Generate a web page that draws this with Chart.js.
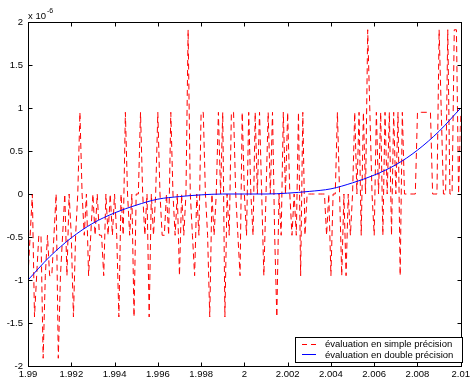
<!DOCTYPE html>
<html>
<head>
<meta charset="utf-8">
<script src="https://cdn.jsdelivr.net/npm/chart.js@4/dist/chart.umd.min.js"></script>
<style>
  html, body { margin: 0; padding: 0; background: #fff; }
  #wrap { width: 473px; height: 379px; }
</style>
</head>
<body>
<div id="wrap"><canvas id="chart" width="473" height="379"></canvas></div>
<script>
// sampling of the two curves
const singleStart = 1.99, singleStep = 0.0001;
const doubleStart = 1.99, doubleStep = 0.001;

// single precision evaluation (x 1e-6)
const singleValues = [
    -0.95, -0.48, 0, -1.43, -0.95, -0.48, -0.48, -1.91, -0.95, -0.48, -0.95, -0.95, -0.48, 0, -1.91, -0.95,
    -0.48, 0, -0.95, 0, -0.48, -1.43, -0.48, 0, 0.95, 0, -0.48, 0, -0.95, -0.48, 0, -0.48, 0, -0.48, -0.48, -0.95,
    0, -0.48, 0, -0.48, 0, -0.48, -1.43, 0, -0.48, 0.95, 0, -0.48, 0, -1.43, 0,
    0, 0.95, 0, -0.48, 0, -1.43, 0, -0.48, 0, 0.95,
    0, -0.48, -0.48, 0, -0.48, 0.95, 0, -0.48, 0, -0.95,
    0, -0.48, 0, 1.91, 0, -0.48, -0.95, 0, -0.48, 0.95,
    0.95, 0, -0.48, -1.43, 0, -0.48, 0, 0.95, 0, 0.95,
    -1.43, 0, -0.48, 0.95, 0.95, 0, -0.48, -0.95, 0.95, 0,
    -0.48, 0.95, 0, -0.48, 0.95, 0, 0.95, 0, -0.95, 0,
    0.95, 0, 0.95, -0.48, -1.43, 0, -0.48, 0.95, 0, 0.95,
    0, -0.48, 0, -0.48, 0.95, -0.95, 0.95, -0.48, 0, 0,
    0, 0, 0, 0, 0, 0, 0, -0.48, 0, -0.95,
    0, 0, 0.95, 0, -0.95, 0, -0.95, 0, -0.48, 0,
    0.95, 0, 0.95, -0.48, 0.95, 0, 1.91, 0.95, 0, -0.48,
    0.95, 0, 0.95, -0.48, 0.95, 0, 0.95, -0.48, 0.95, 0,
    0.95, -0.95, 0.95, 0, 0, 0, 0, 0, 0, 0.95,
    0.95, 0.95, 0.95, 0.95, 0.95, 0.95, 0, 0, 0, 1.91,
    0.95, 0, 0, 1.91, 0, 0, 1.91, 1.91, 0, 0.95
];

// double precision evaluation (x 1e-6)
const doubleValues = [
    -1.0, -0.73, -0.51, -0.34, -0.22, -0.13, -0.06, -0.03, -0.01, 0, 0,
    0, 0.01, 0.03, 0.06, 0.13, 0.22, 0.34, 0.51, 0.73, 1.0
];

const xTicks = [1.99, 1.992, 1.994, 1.996, 1.998, 2, 2.002, 2.004, 2.006, 2.008, 2.01];
const xTickLabels = ['1.99', '1.992', '1.994', '1.996', '1.998', '2', '2.002', '2.004', '2.006', '2.008', '2.01'];
const yTicks = [-2, -1.5, -1, -0.5, 0, 0.5, 1, 1.5, 2];
const yTickLabels = ['-2', '-1.5', '-1', '-0.5', '0', '0.5', '1', '1.5', '2'];

const labels = ['évaluation en simple précision', 'évaluation en double précision'];

const FONT = '"Liberation Sans", Arial, sans-serif';

const singlePoints = singleValues.map((v, i) => ({ x: +(singleStart + i * singleStep).toFixed(4), y: v }));
const doublePoints = doubleValues.map((v, i) => ({ x: +(doubleStart + i * doubleStep).toFixed(3), y: v }));

// frame, inward ticks, exponent and legend, matlab style
const matlabDecor = {
    id: 'matlabDecor',
    afterDraw(chart) {
        const ctx = chart.ctx;
        const a = chart.chartArea;
        const xs = chart.scales.x, ys = chart.scales.y;
        const L = Math.round(a.left) + 0.5, R = Math.round(a.right) + 0.5;
        const T = Math.round(a.top) + 0.5, B = Math.round(a.bottom) + 0.5;
        ctx.save();
        ctx.strokeStyle = '#000';
        ctx.lineWidth = 1;
        ctx.setLineDash([]);
        ctx.strokeRect(L, T, R - L, B - T);

        const tl = 4;
        ctx.beginPath();
        xTicks.forEach(v => {
            const px = Math.round(xs.getPixelForValue(v)) + 0.5;
            ctx.moveTo(px, B); ctx.lineTo(px, B - tl);
            ctx.moveTo(px, T); ctx.lineTo(px, T + tl);
        });
        yTicks.forEach(v => {
            const py = Math.round(ys.getPixelForValue(v)) + 0.5;
            ctx.moveTo(L, py); ctx.lineTo(L + tl, py);
            ctx.moveTo(R, py); ctx.lineTo(R - tl, py);
        });
        ctx.stroke();

        // exponent label
        ctx.fillStyle = '#000';
        ctx.textBaseline = 'alphabetic';
        ctx.textAlign = 'left';
        ctx.font = '9.5px ' + FONT;
        ctx.fillText('x 10', 28, 19);
        const w = ctx.measureText('x 10').width;
        ctx.font = '7px ' + FONT;
        ctx.fillText('-6', 28 + w + 1, 13);

        // legend
        const bx = 295.5, by = 337.5, bw = 167, bh = 25;
        ctx.fillStyle = '#fff';
        ctx.fillRect(bx, by, bw, bh);
        ctx.strokeStyle = '#000';
        ctx.strokeRect(bx, by, bw, bh);

        ctx.lineWidth = 1;
        ctx.strokeStyle = '#ff0000';
        ctx.setLineDash([5, 4]);
        ctx.beginPath();
        ctx.moveTo(302, 344.5); ctx.lineTo(316, 344.5);
        ctx.stroke();
        ctx.setLineDash([]);
        ctx.strokeStyle = '#0000ff';
        ctx.beginPath();
        ctx.moveTo(302, 354.5); ctx.lineTo(316, 354.5);
        ctx.stroke();

        ctx.fillStyle = '#000';
        ctx.font = '9.5px ' + FONT;
        ctx.textBaseline = 'middle';
        ctx.fillText(labels[0], 325, 344.5);
        ctx.fillText(labels[1], 325, 355);
        ctx.restore();
    }
};

new Chart(document.getElementById('chart'), {
    type: 'line',
    data: {
        datasets: [
            {
                label: labels[0],
                data: singlePoints,
                borderColor: '#ff0000',
                borderWidth: 1,
                borderDash: [6, 4],
                pointRadius: 0,
                tension: 0,
                order: 1
            },
            {
                label: labels[1],
                data: doublePoints,
                borderColor: '#0000ff',
                borderWidth: 1,
                pointRadius: 0,
                cubicInterpolationMode: 'monotone',
                order: 0
            }
        ]
    },
    options: {
        responsive: false,
        animation: false,
        devicePixelRatio: 1,
        layout: { padding: { top: 22, right: 9, left: 0, bottom: 0 } },
        plugins: {
            legend: { display: false },
            tooltip: { enabled: false }
        },
        scales: {
            x: {
                type: 'linear',
                min: 1.99,
                max: 2.01,
                afterBuildTicks: scale => { scale.ticks = xTicks.map(v => ({ value: v })); },
                afterFit: scale => { scale.height = 13; },
                grid: { display: false, drawTicks: false },
                border: { display: false },
                ticks: {
                    autoSkip: false,
                    maxRotation: 0,
                    padding: 3,
                    color: '#000',
                    font: { family: FONT, size: 9.5 },
                    callback: (v, i) => xTickLabels[i]
                }
            },
            y: {
                type: 'linear',
                min: -2,
                max: 2,
                afterBuildTicks: scale => { scale.ticks = yTicks.map(v => ({ value: v })); },
                afterFit: scale => { scale.width = 28; },
                grid: { display: false, drawTicks: false },
                border: { display: false },
                ticks: {
                    padding: 5,
                    color: '#000',
                    font: { family: FONT, size: 9.5 },
                    callback: (v, i) => yTickLabels[i]
                }
            }
        }
    },
    plugins: [matlabDecor]
});
</script>
</body>
</html>
